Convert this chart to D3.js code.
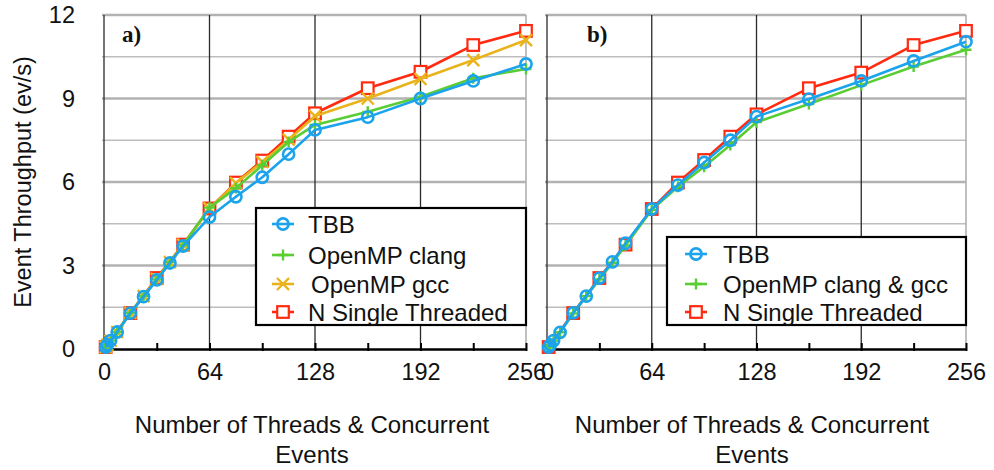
<!DOCTYPE html>
<html><head><meta charset="utf-8">
<script src="https://cdn.jsdelivr.net/npm/d3@7"></script>
<style>
body{margin:0;background:#fff}
text{font-family:"Liberation Sans",Arial,Helvetica,sans-serif;fill:#111}
</style>
</head><body>
<svg id="chart" width="994" height="470"></svg>
<script>
// ---- data ----
const threads   = [1, 2, 4, 8, 16, 24, 32, 40, 48, 64, 80, 96, 112, 128, 160, 192, 224, 256];
const stThreads = [1, 16, 32, 48, 64, 80, 96, 112, 128, 160, 192, 224, 256];

const tbbA   = [0.07,0.15,0.3,0.61,1.29,1.88,2.48,3.09,3.70,4.74,5.47,6.17,7.00,7.87,8.33,9.00,9.63,10.24];
const clangA = [0.07,0.15,0.3,0.61,1.30,1.90,2.50,3.12,3.73,5.08,5.78,6.60,7.44,8.05,8.52,9.06,9.73,10.06];
const gccA   = [0.07,0.15,0.3,0.61,1.30,1.90,2.52,3.12,3.75,5.05,5.96,6.72,7.52,8.37,9.00,9.70,10.38,11.10];
const nstA   = [0.07,1.29,2.55,3.75,5.05,5.98,6.77,7.63,8.47,9.37,9.96,10.92,11.43];

const tbbB   = [0.07,0.15,0.3,0.60,1.30,1.90,2.55,3.13,3.80,5.03,5.89,6.70,7.50,8.35,8.98,9.63,10.35,11.04];
const ompB   = [0.07,0.15,0.3,0.60,1.28,1.90,2.50,3.10,3.72,5.00,5.83,6.55,7.33,8.15,8.80,9.48,10.15,10.75];
const nstB   = [0.07,1.29,2.55,3.75,5.03,5.98,6.79,7.63,8.43,9.37,9.93,10.92,11.43];

const xTickLabels = [0, 64, 128, 192, 256];
const yTickLabels = [0, 3, 6, 9, 12];
const panelLabels = ["a)", "b)"];
const legendA = ["TBB", "OpenMP clang", "OpenMP gcc", "N Single Threaded"];
const legendB = ["TBB", "OpenMP clang & gcc", "N Single Threaded"];

// ---- styles ----
const C = {blue:"#1ba3ec", green:"#5acd35", gold:"#e9b31c", red:"#ff2a10"};

const svg = d3.select("#chart");
const yTop = 15, yBot = 349;
const y = d3.scaleLinear().domain([0, 12]).range([yBot, yTop]);

function marker(g, type, px, py, color) {
  if (type === "circle") {
    g.append("circle").attr("cx", px).attr("cy", py).attr("r", 5.6)
      .attr("fill", "none").attr("stroke", color).attr("stroke-width", 2.6);
  } else if (type === "square") {
    g.append("rect").attr("x", px - 5.8).attr("y", py - 5.8).attr("width", 11.6).attr("height", 11.6)
      .attr("fill", "#fff").attr("stroke", color).attr("stroke-width", 2.2);
  } else if (type === "plus") {
    g.append("path").attr("d", `M${px-5.5},${py}H${px+5.5}M${px},${py-5.5}V${py+5.5}`)
      .attr("stroke", color).attr("stroke-width", 2.4).attr("fill", "none");
  } else if (type === "x") {
    g.append("path").attr("d", `M${px-6},${py-6}L${px+6},${py+6}M${px-6},${py+6}L${px+6},${py-6}`)
      .attr("stroke", color).attr("stroke-width", 2.4).attr("fill", "none");
  }
}

function drawPanel(p) {
  const x = d3.scaleLinear().domain([0, 256]).range([p.x0, p.x1]);
  const g = svg.append("g");

  // horizontal grid
  d3.range(1, 9).map(i => i * 1.5).forEach(v => {
    const major = (v % 3 === 0);
    g.append("line").attr("x1", p.x0 - 2).attr("x2", p.x1).attr("y1", y(v)).attr("y2", y(v))
      .attr("stroke", major ? "#b2b2b2" : "#bdbdbd").attr("stroke-width", major ? 2.4 : 1.4);
  });
  // vertical grid
  [0, 64, 128, 192, 256].forEach(v => {
    g.append("line").attr("x1", x(v)).attr("x2", x(v)).attr("y1", yTop).attr("y2", yBot)
      .attr("stroke", v === 256 ? "#b0b0b0" : "#2a2a2a").attr("stroke-width", v === 256 ? 1.6 : 1.3);
  });

  // x axis
  const ax = d3.axisBottom(x).tickValues(d3.range(0, 257, 32))
    .tickSizeInner(-6).tickSizeOuter(0).tickPadding(14)
    .tickFormat(d => xTickLabels.includes(d) ? d : "");
  const axg = g.append("g").attr("transform", `translate(0,${yBot})`).call(ax);
  axg.select(".domain").attr("stroke", "#000").attr("stroke-width", 2.4);
  axg.selectAll(".tick line").attr("stroke", "#000").attr("stroke-width", 2).attr("y2", -6).attr("y1", 2);
  axg.selectAll(".tick text").attr("font-size", 23.5).attr("font-family", '"Liberation Sans",Arial,sans-serif').attr("fill", "#111");

  // x title
  const tx = g.append("text").attr("text-anchor", "middle").attr("font-size", 24);
  tx.append("tspan").attr("x", p.titleX).attr("y", 433).text("Number of Threads & Concurrent");
  tx.append("tspan").attr("x", p.titleX).attr("y", 463).text("Events");

  // panel label
  g.append("text").attr("x", p.labelX).attr("y", 42).attr("font-size", 23).attr("font-weight", "bold")
    .style("font-family", '"Liberation Serif","Times New Roman",serif').text(p.label);

  // series
  const line = d3.line().x(d => x(d[0])).y(d => y(d[1]));
  p.series.forEach(s => {
    const pts = s.xs.map((t, i) => [t, s.vals[i]]);
    g.append("path").datum(pts).attr("d", line).attr("fill", "none")
      .attr("stroke", s.color).attr("stroke-width", 2.6).attr("stroke-linejoin", "round");
    pts.forEach(d => marker(g, s.type, x(d[0]), y(d[1]), s.color));
  });

  // legend
  const L = p.legend;
  g.append("rect").attr("x", L.x).attr("y", L.y).attr("width", L.w).attr("height", L.h)
    .attr("fill", "#fff").attr("stroke", "#000").attr("stroke-width", 2.2);
  L.items.forEach((it, i) => {
    const cy = L.rows[i];
    g.append("line").attr("x1", L.sx - 11).attr("x2", L.sx + 11).attr("y1", cy).attr("y2", cy)
      .attr("stroke", it.color).attr("stroke-width", 2.6);
    marker(g, it.type, L.sx, cy, it.color);
    g.append("text").attr("x", L.tx + (it.dx || 0)).attr("y", cy).attr("dy", "0.36em")
      .attr("font-size", 24).text(it.name);
  });
}

const sTbb = {type:"circle", color:C.blue};
const sGreen = {type:"plus", color:C.green};
const sGold = {type:"x", color:C.gold};
const sRed = {type:"square", color:C.red};

drawPanel({
  x0:104, x1:526, titleX:312, labelX:122, label:panelLabels[0],
  series:[
    {...sRed, xs:stThreads, vals:nstA},
    {...sGold, xs:threads, vals:gccA},
    {...sGreen, xs:threads, vals:clangA},
    {...sTbb, xs:threads, vals:tbbA}
  ],
  legend:{x:256, y:208, w:270, h:117, sx:283, tx:308, rows:[224,255,284,312],
    items:[{...sTbb, name:legendA[0]}, {...sGreen, name:legendA[1]}, {...sGold, name:legendA[2], dx:3}, {...sRed, name:legendA[3]}]}
});

drawPanel({
  x0:547, x1:966, titleX:752, labelX:587, label:panelLabels[1],
  series:[
    {...sRed, xs:stThreads, vals:nstB},
    {...sGreen, xs:threads, vals:ompB},
    {...sTbb, xs:threads, vals:tbbB}
  ],
  legend:{x:667, y:237, w:299, h:88, sx:696, tx:723, rows:[254,284,312],
    items:[{...sTbb, name:legendB[0]}, {...sGreen, name:legendB[1]}, {...sRed, name:legendB[2]}]}
});

// y axis labels (left panel only)
const ay = d3.axisLeft(y).tickValues(yTickLabels).tickSize(0).tickPadding(29);
const ayg = svg.append("g").attr("transform", "translate(104,0)").call(ay);
ayg.select(".domain").remove();
ayg.selectAll(".tick text").attr("font-size", 23.5).attr("font-family", '"Liberation Sans",Arial,sans-serif').attr("fill", "#111");

// y title
svg.append("text").attr("transform", "translate(31,182) rotate(-90)").attr("text-anchor", "middle")
  .attr("font-size", 23.5).text("Event Throughput (ev/s)");
</script>
</body></html>
